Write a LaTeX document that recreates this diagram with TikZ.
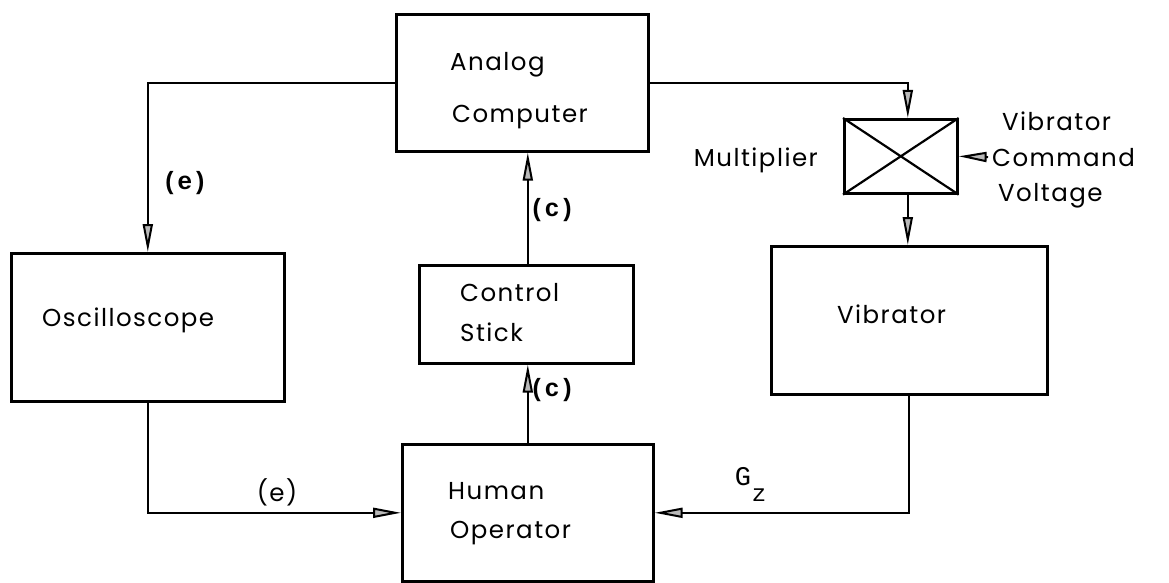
\documentclass[tikz,border=0pt]{standalone}
\usepackage{fontspec}
\setmainfont{Poppins}
\newfontfamily\lbl[LetterSpace=6]{Poppins}
\newfontfamily\mono{Liberation Mono}
\usetikzlibrary{arrows.meta}
\begin{document}
\begin{tikzpicture}[x=1pt,y=-1pt,
  blk/.style={draw, line width=2.6pt, inner sep=0pt, anchor=north west},
  conn/.style={line width=2pt},
  arr/.style={conn, -{Triangle[length=28pt,width=10pt,fill=gray!55]}},
  txt/.style={font=\lbl\fontsize{24.5}{28}\selectfont, anchor=base west, inner sep=0pt},
  lab/.style={font=\mono\bfseries\fontsize{25}{28}\selectfont, inner sep=0pt}]
\useasboundingbox (0,0) rectangle (1169,583);
% boxes
\node[blk, minimum width=252pt, minimum height=137pt] (A) at (395,13) {};
\node[blk, minimum width=113pt, minimum height=74pt] (M) at (843,118) {};
\node[blk, minimum width=276pt, minimum height=148pt] (V) at (770,245) {};
\node[blk, minimum width=273pt, minimum height=148pt] (O) at (10,252) {};
\node[blk, minimum width=214pt, minimum height=98pt] (C) at (418,264) {};
\node[blk, minimum width=251pt, minimum height=137pt] (H) at (401,443) {};
\draw[line width=2.2pt] (M.north west) -- (M.south east) (M.south west) -- (M.north east);
% texts
\node[txt] (tA1) at (450,71) {Analog};
\node[txt] (tA2) at (452,123) {Computer};
\node[txt, anchor=base east] (tM) at (818,166) {Multiplier};
\node[txt] (tV) at (837,323) {Vibrator};
\node[txt] (tO) at (42,326) {Oscilloscope};
\node[txt] (tC1) at (460,301) {Control};
\node[txt] (tC2) at (460,341) {Stick};
\node[txt] (tH1) at (448,499) {Human};
\node[txt] (tH2) at (450,538) {Operator};
\node[txt] (cV) at (1002,131) {Vibrator};
\node[txt] (cC) at (992,166) {Command};
\node[txt] (cVo) at (998,201) {Voltage};
% labels
\node[lab] (le1) at (185,183) {(e)};
\node[lab] (lc1) at (552,210) {(c)};
\node[lab] (lc2) at (552,390) {(c)};
\node[txt, anchor=center] (le2) at (277,492) {(e)};
\node[lab, font=\mono\fontsize{27}{30}\selectfont] (lG) at (743,477) {G};
\node[lab, font=\mono\fontsize{24}{28}\selectfont] (lz) at (759,495) {z};
% connectors
\draw[arr] (A.west) -| (O.north);
\draw[arr] (A.east) -| ([xshift=7pt]M.north);
\draw[arr] ([xshift=7pt]M.south) -- ([xshift=7pt]M.south |- V.north);
\draw[arr] ([xshift=-4pt]cC.west) -- (M.east);
\draw[arr] (V.south) |- (H.east);
\draw[arr] (O.south) |- (H.west);
\draw[arr] (H.north) -- (H.north |- C.south);
\draw[arr] (H.north |- C.north) -- (H.north |- A.south);
\end{tikzpicture}
\end{document}
